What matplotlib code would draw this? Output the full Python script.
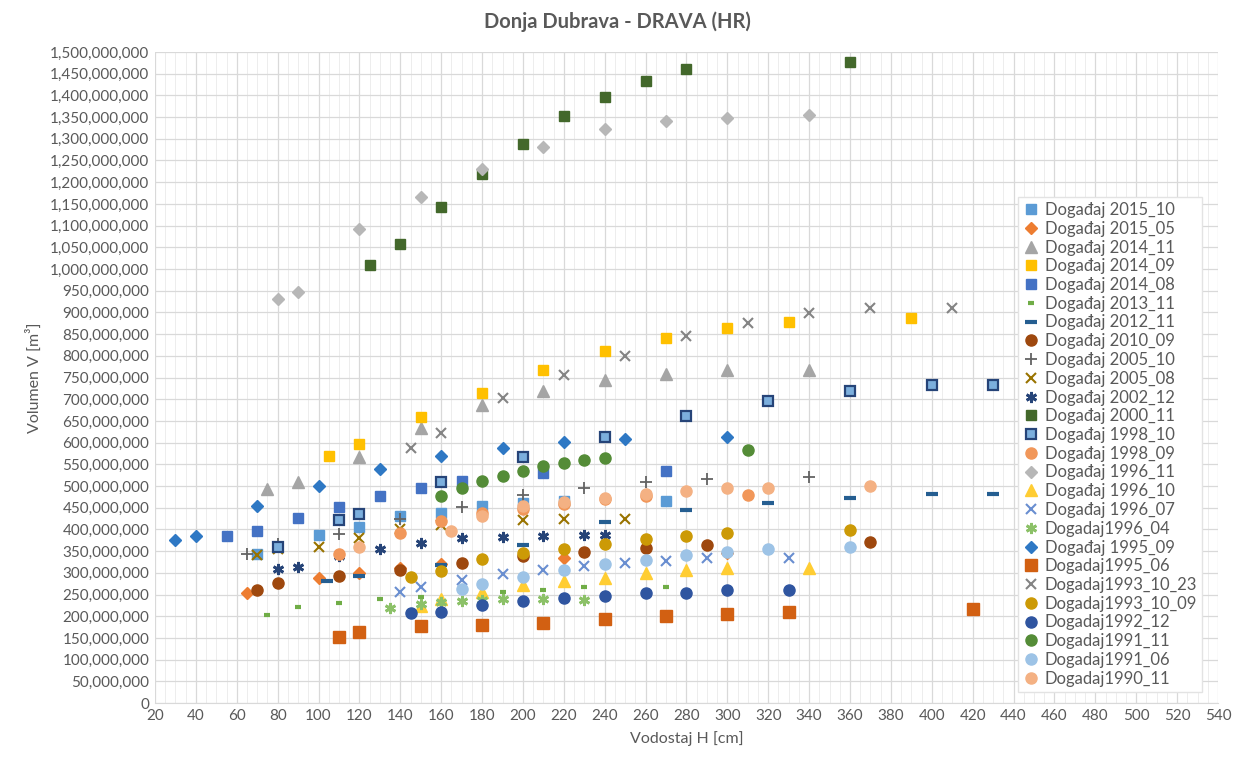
import matplotlib
matplotlib.use("Agg")
import matplotlib.pyplot as plt
from matplotlib.ticker import MultipleLocator, FuncFormatter

plt.rcParams['font.family'] = ['Lato', 'DejaVu Sans']

# ---- data (H in cm, V in millions of m3) ----
h_2015_10 = [70, 100, 120, 140, 160, 180, 200, 220, 270]
v_2015_10 = [343, 386, 405, 430, 437, 454, 461, 465, 466]
h_2015_05 = [65, 100, 120, 140, 160, 220, 300]
v_2015_05 = [253, 288, 300, 312, 320, 334, 346]
h_2014_11 = [75, 90, 120, 150, 180, 210, 240, 270, 300, 340]
v_2014_11 = [493, 509, 566, 634, 686, 720, 745, 757, 767, 767]
h_2014_09 = [105, 120, 150, 180, 210, 240, 270, 300, 330, 390]
v_2014_09 = [570, 597, 660, 714, 767, 812, 842, 864, 878, 887]
h_2014_08 = [55, 70, 90, 110, 130, 150, 170, 210, 270]
v_2014_08 = [385, 397, 426, 452, 477, 495, 511, 530, 535]
h_2013_11 = [75, 90, 110, 130, 150, 190, 210, 230, 270]
v_2013_11 = [203, 221, 230, 240, 245, 256, 260, 267, 267]
h_2012_11 = [104, 120, 160, 200, 240, 280, 320, 360, 400, 430]
v_2012_11 = [280, 293, 318, 364, 417, 444, 460, 472, 482, 482]
h_2010_09 = [70, 80, 110, 140, 170, 200, 230, 260, 290, 370]
v_2010_09 = [260, 276, 293, 306, 323, 338, 349, 358, 364, 371]
h_2005_10 = [65, 80, 110, 140, 170, 200, 230, 260, 290, 340]
v_2005_10 = [343, 366, 389, 424, 452, 479, 495, 509, 516, 521]
h_2005_08 = [70, 80, 100, 120, 140, 160, 200, 220, 250]
v_2005_08 = [341, 355, 360, 380, 401, 410, 421, 424, 424]
h_2002_12 = [80, 90, 110, 130, 150, 170, 190, 210, 230, 240]
v_2002_12 = [309, 313, 338, 355, 369, 380, 382, 385, 387, 387]
h_2000_11 = [125, 140, 160, 180, 200, 220, 240, 260, 280, 360]
v_2000_11 = [1010, 1058, 1142, 1220, 1288, 1352, 1397, 1432, 1460, 1478]
h_1998_10 = [80, 110, 120, 160, 200, 240, 280, 320, 360, 400, 430]
v_1998_10 = [360, 421, 435, 510, 567, 614, 662, 697, 720, 733, 733]
h_1998_09 = [110, 140, 160, 180, 200, 220, 240, 260, 310]
v_1998_09 = [343, 392, 419, 437, 448, 459, 470, 476, 479]
h_1996_11 = [80, 90, 120, 150, 180, 210, 240, 270, 300, 340]
v_1996_11 = [930, 948, 1092, 1165, 1230, 1282, 1322, 1342, 1348, 1354]
h_1996_10 = [150, 160, 180, 200, 220, 240, 260, 280, 300, 340]
v_1996_10 = [224, 240, 256, 272, 281, 289, 300, 306, 311, 311]
h_1996_07 = [140, 150, 170, 190, 210, 230, 250, 270, 290, 330]
v_1996_07 = [256, 267, 283, 297, 306, 316, 322, 327, 334, 334]
h_1996_04 = [135, 150, 160, 170, 180, 190, 210, 230]
v_1996_04 = [219, 228, 233, 236, 237, 240, 240, 238]
h_1995_09 = [30, 40, 70, 100, 130, 160, 190, 220, 250, 300]
v_1995_09 = [375, 385, 455, 500, 540, 570, 588, 602, 608, 613]
h_1995_06 = [110, 120, 150, 180, 210, 240, 270, 300, 330, 420]
v_1995_06 = [152, 163, 178, 180, 184, 194, 200, 205, 210, 217]
h_1993_10_23 = [145, 160, 190, 220, 250, 280, 310, 340, 370, 410]
v_1993_10_23 = [587, 622, 703, 755, 800, 845, 876, 898, 910, 910]
h_1993_10_09 = [145, 160, 180, 200, 220, 240, 260, 280, 300, 360]
v_1993_10_09 = [291, 305, 332, 345, 355, 366, 378, 385, 392, 398]
h_1992_12 = [145, 160, 180, 200, 220, 240, 260, 280, 300, 330]
v_1992_12 = [207, 210, 226, 235, 242, 247, 254, 254, 260, 260]
h_1991_11 = [160, 170, 180, 190, 200, 210, 220, 230, 240, 310]
v_1991_11 = [477, 495, 512, 523, 535, 546, 553, 560, 564, 582]
h_1991_06 = [170, 180, 200, 220, 240, 260, 280, 300, 320, 360]
v_1991_06 = [263, 274, 290, 306, 320, 329, 341, 349, 355, 359]
h_1990_11 = [120, 165, 180, 200, 220, 240, 260, 280, 300, 320, 370]
v_1990_11 = [360, 397, 430, 455, 464, 473, 481, 488, 495, 495, 500]

x_ticks = list(range(20, 541, 20))

ASTER = (6, 2, 0)
series = [
    ("Događaj 2015_10", h_2015_10, v_2015_10, dict(marker='s', color='#5B9BD5', ms=7)),
    ("Događaj 2015_05", h_2015_05, v_2015_05, dict(marker='D', color='#ED7D31', ms=6)),
    ("Događaj 2014_11", h_2014_11, v_2014_11, dict(marker='^', color='#A5A5A5', ms=8)),
    ("Događaj 2014_09", h_2014_09, v_2014_09, dict(marker='s', color='#FFC000', ms=7)),
    ("Događaj 2014_08", h_2014_08, v_2014_08, dict(marker='s', color='#4472C4', ms=7)),
    ("Događaj 2013_11", h_2013_11, v_2013_11, dict(marker='_', color='#70AD47', ms=5, mew=3)),
    ("Događaj 2012_11", h_2012_11, v_2012_11, dict(marker='_', color='#255E91', ms=8, mew=3)),
    ("Događaj 2010_09", h_2010_09, v_2010_09, dict(marker='o', color='#9E480E', ms=8)),
    ("Događaj 2005_10", h_2005_10, v_2005_10, dict(marker='+', color='#636363', ms=8, mew=1.3)),
    ("Događaj 2005_08", h_2005_08, v_2005_08, dict(marker='x', color='#997300', ms=7, mew=1.5)),
    ("Događaj 2002_12", h_2002_12, v_2002_12, dict(marker=ASTER, color='#264478', ms=8, mew=2)),
    ("Događaj 2000_11", h_2000_11, v_2000_11, dict(marker='s', color='#43682B', ms=7)),
    ("Događaj 1998_10", h_1998_10, v_1998_10, dict(marker='s', color='#7CAFDD', ms=7.5, mec='#264478', mew=1.6)),
    ("Događaj 1998_09", h_1998_09, v_1998_09, dict(marker='o', color='#F1975A', ms=8)),
    ("Događaj 1996_11", h_1996_11, v_1996_11, dict(marker='D', color='#B7B7B7', ms=6)),
    ("Događaj 1996_10", h_1996_10, v_1996_10, dict(marker='^', color='#FFCD33', ms=8)),
    ("Događaj 1996_07", h_1996_07, v_1996_07, dict(marker='x', color='#698ED0', ms=7, mew=1.5)),
    ("Dogadaj1996_04", h_1996_04, v_1996_04, dict(marker=ASTER, color='#8CC168', ms=8, mew=2)),
    ("Događaj 1995_09", h_1995_09, v_1995_09, dict(marker='D', color='#2E78C4', ms=6)),
    ("Dogadaj1995_06", h_1995_06, v_1995_06, dict(marker='s', color='#D26012', ms=8)),
    ("Dogadaj1993_10_23", h_1993_10_23, v_1993_10_23, dict(marker='x', color='#848484', ms=7, mew=1.5)),
    ("Dogadaj1993_10_09", h_1993_10_09, v_1993_10_09, dict(marker='o', color='#CC9A06', ms=8)),
    ("Dogadaj1992_12", h_1992_12, v_1992_12, dict(marker='o', color='#2F55A0', ms=8)),
    ("Dogadaj1991_11", h_1991_11, v_1991_11, dict(marker='o', color='#548C37', ms=8)),
    ("Dogadaj1991_06", h_1991_06, v_1991_06, dict(marker='o', color='#9DC3E6', ms=8)),
    ("Dogadaj1990_11", h_1990_11, v_1990_11, dict(marker='o', color='#F4B183', ms=8)),
]

fig = plt.figure(figsize=(12.35, 7.69), dpi=100)
ax = fig.add_axes([0.1255, 0.0858, 0.8607, 0.8466])

for name, hs, vs, st in series:
    st = dict(st)
    col = st.pop('color')
    mec = st.pop('mec', col)
    ax.plot(hs, [v * 1e6 for v in vs], linestyle='none', color=col,
            mfc=col, mec=mec, label=name, **st)

ax.set_xlim(20, 540)
ax.set_ylim(0, 1.5e9)
ax.set_xticks(x_ticks)
ax.xaxis.set_minor_locator(MultipleLocator(5))
ax.yaxis.set_major_locator(MultipleLocator(50e6))
ax.yaxis.set_major_formatter(FuncFormatter(lambda v, p: f"{int(round(v)):,}"))
ax.grid(which='major', color='#D9D9D9', lw=0.9)
ax.grid(which='minor', axis='x', color='#EDEDED', lw=0.7)
ax.set_axisbelow(True)
for s in ['top', 'right', 'left']:
    ax.spines[s].set_visible(False)
ax.spines['bottom'].set_color('#D9D9D9')
ax.tick_params(which='both', length=0, labelsize=11, colors='#595959', pad=4)

ax.set_xlabel("Vodostaj H [cm]", fontsize=11.5, color='#595959', labelpad=6)
ax.set_ylabel("Volumen V [m³]", fontsize=11.5, color='#595959', labelpad=6)
fig.suptitle("Donja Dubrava - DRAVA (HR)", fontsize=14.5, fontweight='bold',
             color='#595959', y=0.985)

leg = ax.legend(loc='upper left', bbox_to_anchor=(1018 / 1235, 1 - 197 / 769),
                bbox_transform=fig.transFigure, borderaxespad=0,
                fontsize=12, frameon=True,
                fancybox=False, edgecolor='#E3E3E3', framealpha=1,
                handlelength=0.9, handletextpad=0.4, labelspacing=0.165,
                borderpad=0.3, numpoints=1)
for t in leg.get_texts():
    t.set_color('#595959')

fig.savefig("out.png", dpi=100)
